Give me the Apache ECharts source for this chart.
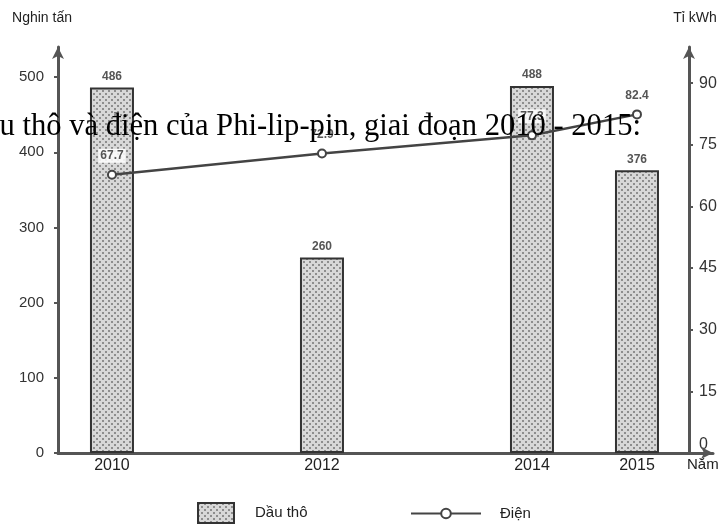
<!DOCTYPE html>
<html lang="vi">
<head>
<meta charset="UTF-8">
<title>Dầu thô và điện của Phi-lip-pin</title>
<style>
    html, body { margin: 0; padding: 0; background: #fff; }
    #main { width: 728px; height: 526px; }
</style>
</head>
<body>
<div id="main"></div>
<script src="https://cdn.jsdelivr.net/npm/echarts@6/dist/echarts.min.js"></script>
<script>
    // du lieu
    var years = [2010, 2012, 2014, 2015];
    var dauTho = [486, 260, 488, 376];      // nghin tan
    var dien = [67.7, 72.9, 77.3, 82.4];    // ti kWh
    var leftTicks = [0, 100, 200, 300, 400, 500];
    var rightTicks = [0, 15, 30, 45, 60, 75, 90];

    var labelFont = '"Liberation Sans Narrow", "Liberation Sans", Arial, sans-serif';

    // nen cham cho cot
    var pat = document.createElement('canvas');
    pat.width = 6;
    pat.height = 6;
    var ctx = pat.getContext('2d');
    ctx.fillStyle = '#d8d8d8';
    ctx.fillRect(0, 0, 6, 6);
    ctx.fillStyle = '#8e8e8e';
    ctx.fillRect(0, 0, 2, 2);
    ctx.fillRect(3, 3, 2, 2);

    var chart = echarts.init(document.getElementById('main'));

    var option = {
        animation: false,
        grid: { left: 58, right: 15, top: 47, bottom: 73 },
        legend: [{
            data: [{ name: 'Dầu thô', icon: 'rect' }],
            left: 197, top: 502, padding: 0,
            itemWidth: 36, itemHeight: 20,
            textStyle: { fontFamily: labelFont, fontSize: 15, color: '#222', padding: [0, 0, 0, 16] }
        }, {
            data: ['Điện'],
            left: 410, top: 506, padding: 0,
            itemWidth: 70, itemHeight: 12,
            textStyle: { fontFamily: labelFont, fontSize: 15, color: '#222', padding: [0, 0, 0, 14] }
        }],
        xAxis: {
            type: 'value',
            min: 2009.486,
            max: 2015.724,
            name: 'Năm',
            nameLocation: 'end',
            nameGap: -26,
            nameTextStyle: { fontFamily: labelFont, fontSize: 15, color: '#222', verticalAlign: 'top', padding: [4, 0, 0, 0] },
            splitLine: { show: false },
            axisLine: { lineStyle: { color: '#555', width: 3 }, symbol: ['none', 'arrow'], symbolSize: [9, 12] },
            axisTick: { show: false },
            axisLabel: {
                customValues: years,
                formatter: function (v) { return String(v); },
                fontFamily: labelFont, fontSize: 16, color: '#222', margin: 5
            }
        },
        yAxis: [{
            type: 'value',
            min: 0,
            max: 540,
            name: 'Nghin tấn',
            nameLocation: 'end',
            nameGap: 22,
            nameTextStyle: { fontFamily: labelFont, fontSize: 14, color: '#222', align: 'center', padding: [0, 32, 0, 0] },
            splitLine: { show: false },
            axisLine: { show: true, lineStyle: { color: '#555', width: 3 }, symbol: ['none', 'arrow'], symbolSize: [9, 12] },
            axisTick: { show: true, customValues: leftTicks, length: 4, lineStyle: { color: '#555', width: 2 } },
            axisLabel: { customValues: leftTicks, fontFamily: labelFont, fontSize: 15, color: '#333', margin: 14 }
        }, {
            type: 'value',
            min: 0,
            max: 98.8,
            position: 'right',
            offset: -24,
            name: 'Tỉ kWh',
            nameLocation: 'end',
            nameGap: 22,
            nameTextStyle: { fontFamily: labelFont, fontSize: 14, color: '#222', align: 'center', padding: [0, 0, 0, 12] },
            splitLine: { show: false },
            axisLine: { show: true, lineStyle: { color: '#555', width: 3 }, symbol: ['none', 'arrow'], symbolSize: [9, 12] },
            axisTick: { show: true, customValues: rightTicks, length: 4, lineStyle: { color: '#555', width: 2 } },
            axisLabel: {
                customValues: rightTicks,
                formatter: function (v) { return v === 0 ? '{z|0}' : String(v); },
                rich: { z: { fontFamily: labelFont, fontSize: 16, color: '#333', padding: [0, 0, 16, 0] } },
                fontFamily: labelFont, fontSize: 16, color: '#333', margin: 10
            }
        }],
        series: [{
            name: 'Dầu thô',
            type: 'bar',
            yAxisIndex: 0,
            barWidth: 44,
            data: years.map(function (y, i) { return [y, dauTho[i]]; }),
            itemStyle: { color: { image: pat, repeat: 'repeat' }, borderColor: '#333', borderWidth: 2 },
            label: {
                show: true, position: 'top', distance: 5,
                formatter: function (p) { return p.value[1]; },
                fontFamily: labelFont, fontSize: 12, fontWeight: 'bold', color: '#555'
            }
        }, {
            name: 'Điện',
            type: 'line',
            yAxisIndex: 1,
            data: years.map(function (y, i) { return [y, dien[i]]; }),
            symbol: 'emptyCircle',
            symbolSize: 8,
            lineStyle: { color: '#444', width: 2.5 },
            itemStyle: { color: '#444', borderWidth: 1.5 },
            label: {
                show: true, position: 'top', distance: 7,
                formatter: function (p) { return p.value[1].toFixed(1); },
                fontFamily: labelFont, fontSize: 12, fontWeight: 'bold', color: '#555',
                backgroundColor: 'rgba(255,255,255,0.85)', padding: [1, 2]
            },
            z: 3
        }],
        graphic: [{
            type: 'text',
            z: 100,
            style: {
                x: 641,
                y: 127,
                text: 'u thô và điện của Phi-lip-pin, giai đoạn 2010 - 2015:',
                font: '30.6px "Liberation Serif", "Times New Roman", serif',
                fill: '#000',
                align: 'right',
                verticalAlign: 'middle'
            }
        }]
    };

    chart.setOption(option);
</script>
</body>
</html>
